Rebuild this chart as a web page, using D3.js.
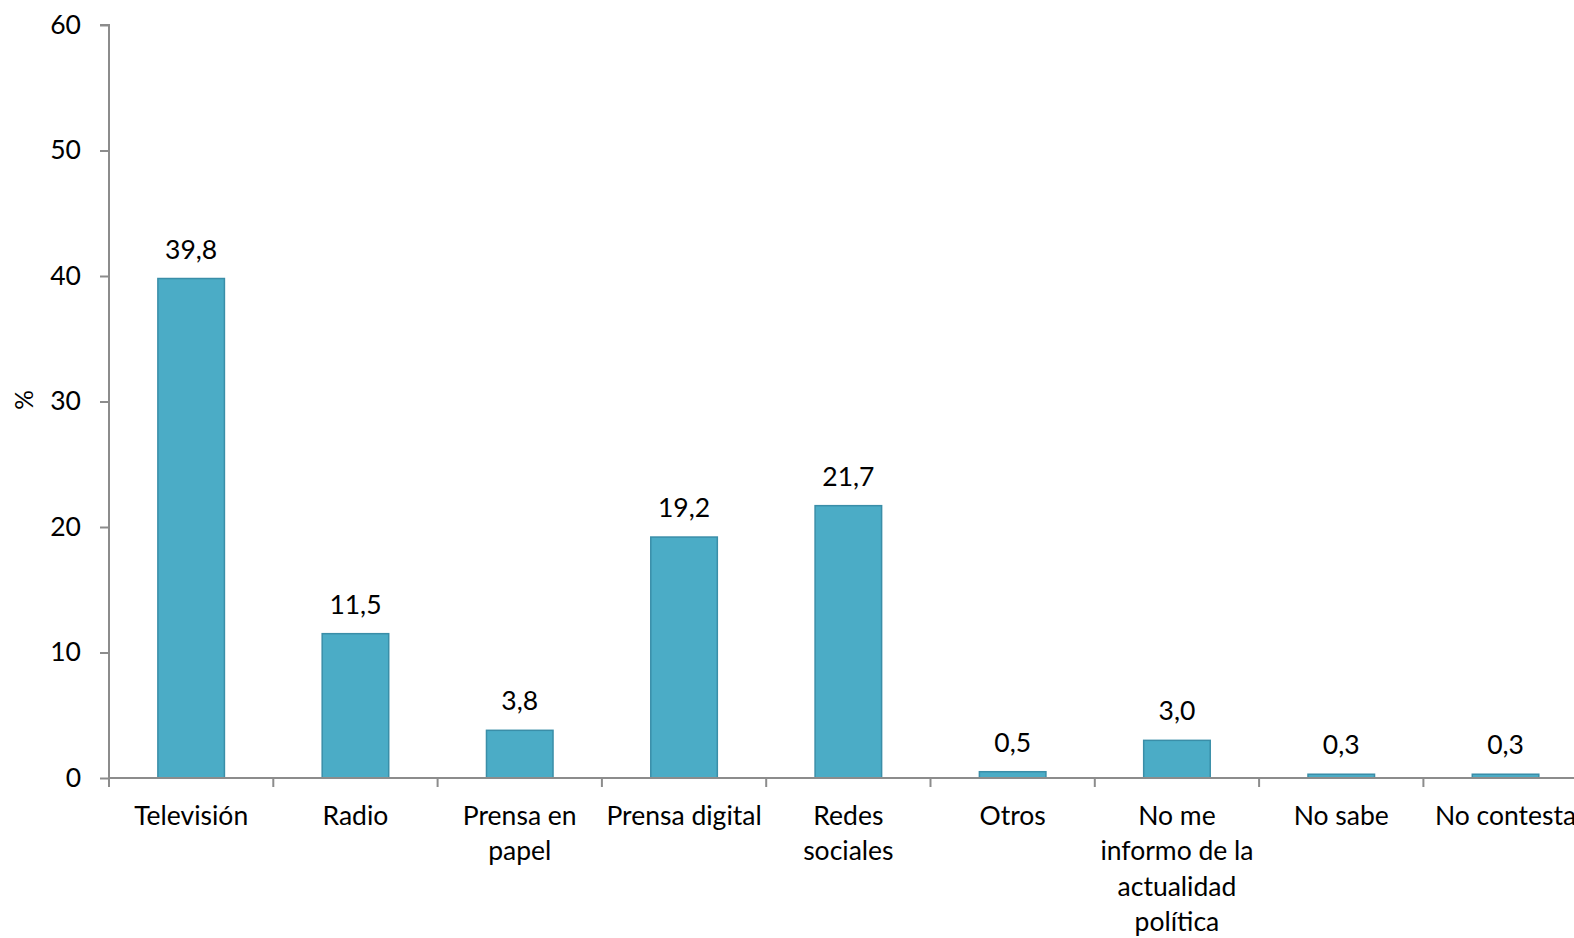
<!DOCTYPE html>
<html><head><meta charset="utf-8">
<script src="https://cdn.jsdelivr.net/npm/d3@7"></script>
<style>
html,body{margin:0;padding:0;background:#fff;overflow:hidden;}
svg{display:block;font-family:Lato, "Open Sans", sans-serif;}
</style></head>
<body><svg id="c" width="1574" height="938"></svg>
<script>
const categories = ["Televisión","Radio","Prensa en\npapel","Prensa digital","Redes\nsociales","Otros","No me\ninformo de la\nactualidad\npolítica","No sabe","No contesta"];
const values = [39.8, 11.5, 3.8, 19.2, 21.7, 0.5, 3.0, 0.3, 0.3];
const valueLabels = ["39,8","11,5","3,8","19,2","21,7","0,5","3,0","0,3","0,3"];
const yTicks = [0,10,20,30,40,50,60];
const yTitle = "%";
</script>
<script>
(function(){
const svg = d3.select("#c");
const mLeft = 109, mTop = 25, mBottom = 778, band = 164.3;
const fs = 26.5;
const x = d3.scaleBand().domain(categories).range([mLeft, mLeft + band*categories.length]).padding(0);
const y = d3.scaleLinear().domain([0,60]).range([mBottom, mTop]);
const barW = x.bandwidth()*0.405;
const axisColor = "#8c8c8c";

// y axis
const ya = svg.append("g").attr("transform",`translate(${mLeft},0)`)
  .call(d3.axisLeft(y).tickValues(yTicks).tickSize(9).tickPadding(19).tickFormat(d3.format("d")));
ya.select(".domain").attr("stroke",axisColor).attr("stroke-width",2).attr("d",`M-9,${mTop}H0V${mBottom}`);
ya.selectAll(".tick line").attr("stroke",axisColor).attr("stroke-width",2);
ya.selectAll(".tick text").attr("font-size",fs).attr("fill","#000").attr("font-family","Lato");

// bars
svg.append("g").selectAll("rect").data(categories).join("rect")
  .attr("x",(d)=>x(d)+x.bandwidth()/2-barW/2)
  .attr("width",barW)
  .attr("y",(d,i)=>y(values[i]))
  .attr("height",(d,i)=>y(0)-y(values[i]))
  .attr("fill","#4bacc6").attr("stroke","#3a8ea8").attr("stroke-width",1.5);

// x axis with boundary ticks
const bounds = d3.range(categories.length+1).map(i=>mLeft+i*band);
const xa = svg.append("g").attr("transform",`translate(0,${mBottom})`);
xa.append("line").attr("x1",mLeft).attr("x2",1574).attr("y1",0).attr("y2",0).attr("stroke",axisColor).attr("stroke-width",2);
xa.selectAll("line.t").data(bounds).join("line").attr("class","t")
  .attr("x1",d=>d).attr("x2",d=>d).attr("y1",0).attr("y2",9).attr("stroke",axisColor).attr("stroke-width",2);

// category labels
const cl = svg.append("g");
categories.forEach((c)=>{
  const lines = c.split("\n");
  const cx = x(c)+x.bandwidth()/2;
  const t = cl.append("text").attr("text-anchor","middle").attr("font-size",fs).attr("fill","#000");
  lines.forEach((ln,j)=>t.append("tspan").attr("x",cx).attr("y",825+j*35.3).text(ln));
});

// value labels
svg.append("g").selectAll("text").data(categories).join("text")
  .attr("text-anchor","middle").attr("font-size",fs).attr("fill","#000")
  .attr("x",d=>x(d)+x.bandwidth()/2)
  .attr("y",(d,i)=>y(values[i])-20)
  .text((d,i)=>valueLabels[i]);

// y title
svg.append("text").attr("transform","translate(33,400) rotate(-90)")
  .attr("text-anchor","middle").attr("font-size",fs-2).attr("fill","#000").text(yTitle);
})();
</script>
</body></html>
